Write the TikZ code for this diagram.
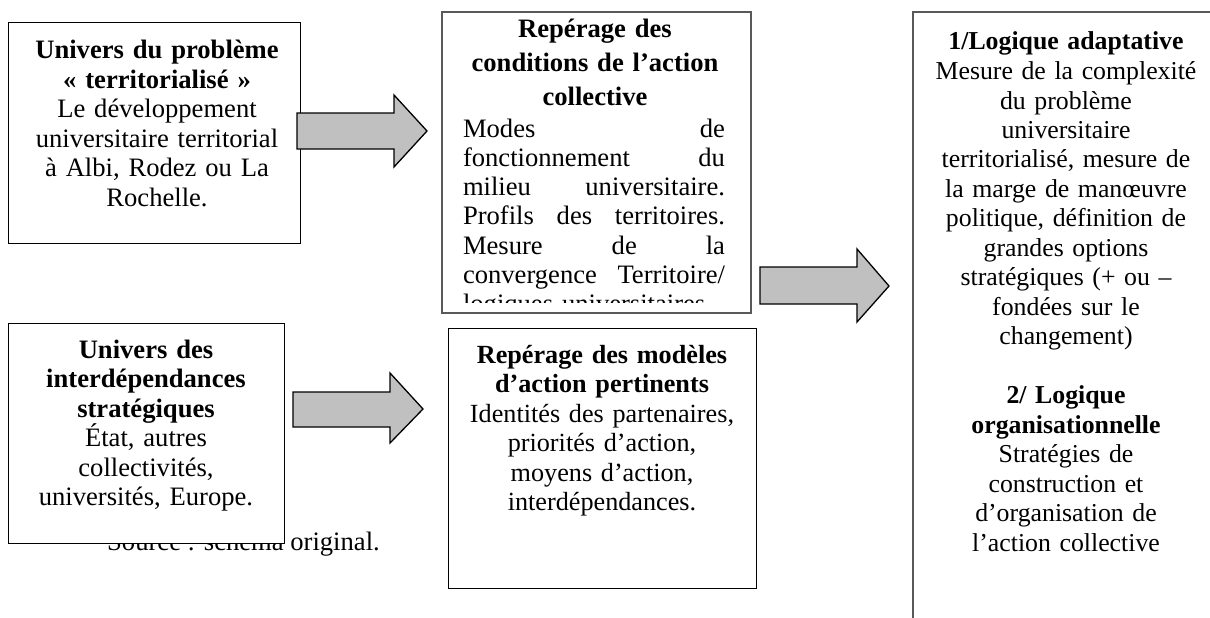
\documentclass[tikz,border=0pt]{standalone}
\usepackage{fontspec}
\setmainfont{Liberation Serif}
\definecolor{arrowgray}{HTML}{C0C0C0}
\newcommand{\jline}[1]{\leavevmode\hbox to 262pt{#1}}
\tikzset{
  box/.style={draw=black, line width=1pt, fill=white, rectangle, inner sep=0pt, outer sep=0pt, anchor=north west},
  graybox/.style={box, draw=black!65, line width=1.4pt},
  txt/.style={inner sep=0pt, outer sep=0pt, anchor=north, align=center, font=\fontsize{26.6}{29.5}\selectfont},
  blockarrow/.style={draw=black, line width=1.3pt, fill=arrowgray, line join=miter},
}
\begin{document}
\begin{tikzpicture}[x=1pt,y=-1pt]
\clip (0,0) rectangle (1210,618);
\useasboundingbox (0,0) rectangle (1210,618);
% source line (partly hidden by the lower-left box)
\node[inner sep=0pt, anchor=base west, font=\fontsize{26.6}{29.5}\selectfont] (src) at (107,550) {Source : schéma original.};
% boxes
\node[box, minimum width=292, minimum height=220] (b1) at (8,23) {};
\node[graybox, minimum width=309, minimum height=301] (b2) at (442,12) {};
\node[box, minimum width=276, minimum height=220] (b3) at (8,323) {};
\node[box, minimum width=308, minimum height=260] (b4) at (448,328) {};
\node[graybox, minimum width=320, minimum height=640] (b5) at (913,12) {};
% texts
\node[txt, text width=285] (t1) at (157,38.35) {\strut\textbf{Univers du problème}\\ \textbf{« territorialisé »}\\ Le développement\\ universitaire territorial\\ à Albi, Rodez ou La\\ Rochelle.};
\node[txt, text width=300, font=\fontsize{26.6}{34}\selectfont] (t2a) at (595,14) {\strut\textbf{Repérage des}\\ \textbf{conditions de l’action}\\ \textbf{collective}};
\begin{scope}
\clip (442,12) rectangle (751,302);
\node[txt, anchor=north west, align=left, text width=262, font=\fontsize{26.6}{29.3}\selectfont] (t2b) at (463,116.5) {\strut\jline{Modes\hfill de}\\ \jline{fonctionnement\hfill du}\\ \jline{milieu\hfill universitaire.}\\ \jline{Profils\hfill des\hfill territoires.}\\ \jline{Mesure\hfill de\hfill la}\\ \jline{convergence\hfill Territoire/}\\ logiques universitaires.};
\end{scope}
\node[txt, text width=270] (t3) at (146,337.35) {\strut\textbf{Univers des}\\ \textbf{interdépendances}\\ \textbf{stratégiques}\\ État, autres\\ collectivités,\\ universités, Europe.};
\node[txt, text width=300, font=\fontsize{26.2}{29.5}\selectfont] (t4) at (602,342.35) {\strut\textbf{Repérage des modèles}\\ \textbf{d’action pertinents}\\ Identités des partenaires,\\ priorités d’action,\\ moyens d’action,\\ interdépendances.};
\node[txt, text width=300, font=\fontsize{25.8}{29.5}\selectfont] (t5) at (1066,29.35) {\strut\textbf{1/Logique adaptative}\\ Mesure de la complexité\\ du problème\\ universitaire\\ territorialisé, mesure de\\ la marge de manœuvre\\ politique, définition de\\ grandes options\\ stratégiques (+ ou –\\ fondées sur le\\ changement)\\[29.5pt] \textbf{2/ Logique}\\ \textbf{organisationnelle}\\ Stratégies de\\ construction et\\ d’organisation de\\ l’action collective};
% block arrows
\draw[blockarrow] (297,113) -- (394,113) -- (394,95) -- (427,131) -- (394,167) -- (394,149) -- (297,149) -- cycle;
\draw[blockarrow] (293,392) -- (390,392) -- (390,373) -- (423,409) -- (390,443) -- (390,427) -- (293,427) -- cycle;
\draw[blockarrow] (760,267) -- (857,267) -- (857,249) -- (889,286) -- (857,322) -- (857,304) -- (760,304) -- cycle;
\end{tikzpicture}
\end{document}
